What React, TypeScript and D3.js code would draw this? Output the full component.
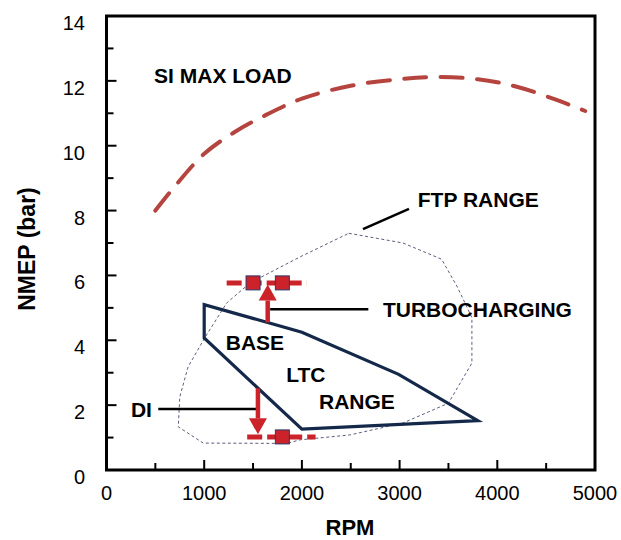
import React from "react";
import * as d3 from "d3";

// ---- data ----
const siMaxRpm = [500, 700, 1000, 1300, 1600, 2000, 2500, 3000, 3400, 3800, 4200, 4600, 4900];
const siMaxNmep = [8.0, 8.75, 9.75, 10.4, 10.9, 11.45, 11.85, 12.05, 12.12, 12.05, 11.82, 11.42, 11.07];

const ftpRpm = [2480, 3035, 3430, 3590, 3740, 3740, 3500, 3035, 2490, 1980, 1845, 990, 735, 750, 835, 1010, 1230, 1470, 1980];
const ftpNmep = [7.3, 7.0, 6.5, 5.65, 4.7, 3.3, 2.06, 1.45, 1.08, 0.93, 0.82, 0.83, 1.33, 2.25, 3.18, 4.1, 5.15, 5.77, 6.57];

const ltcRpm = [1000, 1000, 2000, 3800, 2990, 2000];
const ltcNmep = [5.1, 4.07, 1.26, 1.52, 2.95, 4.25];

const turboLineRpm = [1230, 2050];
const turboLineNmep = 5.77;
const turboPointRpm = [1500, 1800];
const turboArrow = { rpm: 1650, from: 4.55, to: 5.72 };

const diLineRpm = [1440, 2140];
const diLineNmep = 1.02;
const diPointRpm = [1800];
const diArrow = { rpm: 1550, from: 2.52, to: 1.1 };

const xTicks = [0, 1000, 2000, 3000, 4000, 5000];
const xMinor = [500, 1500, 2500, 3500, 4500];
const yTicks = [0, 2, 4, 6, 8, 10, 12, 14];
const yMinor = [1, 3, 5, 7, 9, 11, 13];

const labels = [
  { text: "SI MAX LOAD", rpm: 1192, nmep: 12.15, anchor: "middle" },
  { text: "FTP RANGE", rpm: 3186, nmep: 8.33, anchor: "start" },
  { text: "TURBOCHARGING", rpm: 2829, nmep: 4.96, anchor: "start" },
  { text: "DI", rpm: 465, nmep: 1.88, anchor: "end" },
  { text: "BASE", rpm: 1519, nmep: 3.92, anchor: "middle" },
  { text: "LTC", rpm: 2041, nmep: 2.93, anchor: "middle" },
  { text: "RANGE", rpm: 2563, nmep: 2.1, anchor: "middle" },
];

const leaders = [
  { rpm: [2625, 3096], nmep: [7.43, 8.05] },
  { rpm: [1675, 2680], nmep: [4.96, 4.96] },
  { rpm: [530, 1540], nmep: [1.88, 1.88] },
];

const FONT = "'Liberation Sans', Arial, Helvetica, sans-serif";

export default function App() {
  const W = 621, H = 540;
  const x = d3.scaleLinear().domain([0, 5000]).range([106.5, 595]);
  const y = d3.scaleLinear().domain([0, 14]).range([470, 16]);

  const siLine = d3
    .line<number>()
    .x((d, i) => x(siMaxRpm[i]))
    .y((d) => y(d))
    .curve(d3.curveCatmullRom.alpha(0.5));

  const closedLine = (rs: number[], ns: number[]) =>
    d3
      .line<number>()
      .x((d, i) => x(rs[i]))
      .y((d) => y(d))
      .curve(d3.curveLinearClosed)(ns) as string;

  const red = "#cc2229";
  const navy = "#14284a";

  const arrow = (a: { rpm: number; from: number; to: number }, key: string) => {
    const ax = x(a.rpm);
    const y0 = y(a.from);
    const y1 = y(a.to);
    const dir = y1 < y0 ? -1 : 1;
    const headH = 16;
    const headW = 9;
    const baseY = y1 - dir * headH;
    return (
      <g key={key}>
        <line x1={ax} y1={y0} x2={ax} y2={baseY} stroke={red} strokeWidth={4.5} />
        <path d={`M${ax - headW},${baseY}L${ax + headW},${baseY}L${ax},${y1}Z`} fill={red} />
      </g>
    );
  };

  const sq = 14;

  return (
    <svg width={W} height={H} style={{ display: "block", position: "absolute", left: 0, top: 0 }} fontFamily={FONT}>
      <rect x={0} y={0} width={W} height={H} fill="#fff" />

      {/* FTP range */}
      <path d={closedLine(ftpRpm, ftpNmep)} fill="none" stroke="#5d5d80" strokeWidth={1} strokeDasharray="3,2.5" />

      {/* SI max load */}
      <path d={siLine(siMaxNmep) as string} fill="none" stroke="#b5443f" strokeWidth={4} strokeDasharray="22,14.5" strokeLinecap="round" />

      {/* LTC polygon */}
      <path d={closedLine(ltcRpm, ltcNmep)} fill="none" stroke={navy} strokeWidth={3.2} strokeLinejoin="miter" />

      {/* leaders */}
      {leaders.map((l, i) => (
        <line key={"ld" + i} x1={x(l.rpm[0])} y1={y(l.nmep[0])} x2={x(l.rpm[1])} y2={y(l.nmep[1])} stroke="#000" strokeWidth={2.5} />
      ))}

      {/* turbocharging */}
      <line x1={x(turboLineRpm[0])} x2={x(turboLineRpm[1])} y1={y(turboLineNmep)} y2={y(turboLineNmep)} stroke={red} strokeWidth={5} strokeDasharray="15,5" />
      {turboPointRpm.map((r, i) => (
        <rect key={"tp" + i} x={x(r) - sq / 2} y={y(turboLineNmep) - sq / 2} width={sq} height={sq} fill={red} stroke="#2a3a6a" strokeWidth={1} />
      ))}
      {arrow(turboArrow, "ta")}

      {/* DI */}
      <line x1={x(diLineRpm[0])} x2={x(diLineRpm[1])} y1={y(diLineNmep)} y2={y(diLineNmep)} stroke={red} strokeWidth={5} strokeDasharray="15,5" />
      {diPointRpm.map((r, i) => (
        <rect key={"dp" + i} x={x(r) - sq / 2} y={y(diLineNmep) - sq / 2} width={sq} height={sq} fill={red} stroke="#2a3a6a" strokeWidth={1} />
      ))}
      {arrow(diArrow, "da")}

      {/* labels */}
      {labels.map((l, i) => (
        <text key={"lb" + i} x={x(l.rpm)} y={y(l.nmep)} textAnchor={l.anchor as any} dominantBaseline="central" fontSize={21} fontWeight="bold" fill="#000">
          {l.text}
        </text>
      ))}

      {/* axes frame */}
      <rect x={x(0)} y={y(14)} width={x(5000) - x(0)} height={y(0) - y(14)} fill="none" stroke="#000" strokeWidth={3} />

      {xTicks.map((t) => (
        <g key={"xt" + t}>
          <line x1={x(t)} x2={x(t)} y1={y(0)} y2={y(0) - 10} stroke="#000" strokeWidth={2} />
          <text x={x(t)} y={500} textAnchor="middle" fontSize={20} fill="#000">{t}</text>
        </g>
      ))}
      {xMinor.map((t) => (
        <line key={"xm" + t} x1={x(t)} x2={x(t)} y1={y(0)} y2={y(0) - 7} stroke="#000" strokeWidth={2} />
      ))}
      {yTicks.map((t) => (
        <g key={"yt" + t}>
          <line x1={x(0)} x2={x(0) + 10} y1={y(t)} y2={y(t)} stroke="#000" strokeWidth={2} />
          <text x={85} y={y(t) + 14} textAnchor="end" fontSize={20} fill="#000">{t}</text>
        </g>
      ))}
      {yMinor.map((t) => (
        <line key={"ym" + t} x1={x(0)} x2={x(0) + 7} y1={y(t)} y2={y(t)} stroke="#000" strokeWidth={2} />
      ))}

      <text x={350} y={535} textAnchor="middle" fontSize={22} fontWeight="bold" fill="#000">RPM</text>
      <text transform={`translate(35,249) rotate(-90)`} textAnchor="middle" fontSize={23} fontWeight="bold" fill="#000">NMEP (bar)</text>
    </svg>
  );
}
